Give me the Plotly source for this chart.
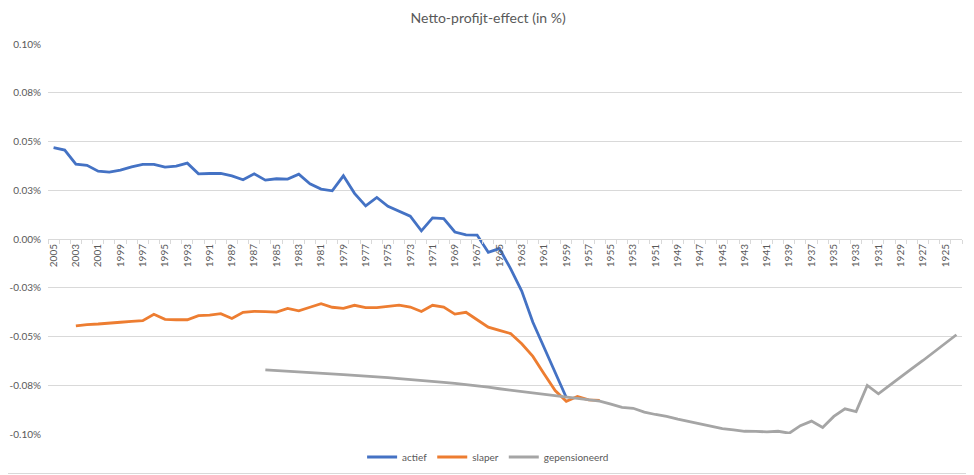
import plotly.graph_objects as go

# Data (in %), years run from 2005 down to 1924
actief_years = list(range(2005, 1958, -1))
actief = [0.0468, 0.0456, 0.0384, 0.0378, 0.0348, 0.0343, 0.0353, 0.0370, 0.0383, 0.0383,
          0.0369, 0.0374, 0.0389, 0.0334, 0.0336, 0.0336, 0.0324, 0.0304, 0.0334, 0.0302,
          0.0309, 0.0307, 0.0332, 0.0283, 0.0256, 0.0247, 0.0324, 0.0234, 0.0170, 0.0213,
          0.0168, 0.0144, 0.0117, 0.0042, 0.0108, 0.0105, 0.0036, 0.0021, 0.0020, -0.0068,
          -0.0049, -0.0152, -0.0267, -0.0427, -0.0556, -0.0684, -0.0813]

slaper_years = list(range(2003, 1955, -1))
slaper = [-0.0446, -0.0439, -0.0436, -0.0433, -0.0427, -0.0422, -0.0419, -0.0386, -0.0412, -0.0414,
          -0.0414, -0.0393, -0.0390, -0.0383, -0.0408, -0.0376, -0.0371, -0.0372, -0.0375, -0.0356,
          -0.0368, -0.0350, -0.0332, -0.0350, -0.0356, -0.0340, -0.0352, -0.0352, -0.0344, -0.0339,
          -0.0349, -0.0372, -0.0340, -0.0349, -0.0385, -0.0376, -0.0414, -0.0452, -0.0469, -0.0485,
          -0.0537, -0.0602, -0.0691, -0.0777, -0.0832, -0.0808, -0.0825, -0.0828]

gepensioneerd_years = list(range(1986, 1923, -1))
gepensioneerd = [-0.0671, -0.0674, -0.0679, -0.0683, -0.0686, -0.0688, -0.0692, -0.0695, -0.0699, -0.0702,
                 -0.0705, -0.0711, -0.0716, -0.0720, -0.0725, -0.0729, -0.0735, -0.0740, -0.0746, -0.0752,
                 -0.0760, -0.0768, -0.0775, -0.0782, -0.0788, -0.0795, -0.0804, -0.0812, -0.0819, -0.0826,
                 -0.0831, -0.0847, -0.0863, -0.0868, -0.0888, -0.0900, -0.0910, -0.0924, -0.0936, -0.0948,
                 -0.0962, -0.0972, -0.0979, -0.0986, -0.0987, -0.0989, -0.0986, -0.0996, -0.0957, -0.0934,
                 -0.0967, -0.0910, -0.0871, -0.0885, -0.0751, -0.0794, -0.0751, -0.0710, -0.0665, -0.0623,
                 -0.0580, -0.0537, -0.0491]

x_ticks = list(range(2005, 1924, -2))
y_ticks = [-0.1, -0.075, -0.05, -0.025, 0.0, 0.025, 0.05, 0.075, 0.1]
y_labels = ['-0.10%', '-0.08%', '-0.05%', '-0.03%', '0.00%', '0.03%', '0.05%', '0.08%', '0.10%']

font = 'Lato, "Open Sans", sans-serif'
grey_txt = '#595959'

fig = go.Figure()
for name, xs, ys, col in [('actief', actief_years, actief, '#4472C4'),
                          ('slaper', slaper_years, slaper, '#ED7D31'),
                          ('gepensioneerd', gepensioneerd_years, gepensioneerd, '#A5A5A5')]:
    fig.add_trace(go.Scatter(x=xs, y=ys, name=name, mode='lines',
                             line=dict(color=col, width=2.8)))

# page body has an 8px margin, so the figure is a bit smaller than the window
fig.update_layout(
    width=966, height=467,
    margin=dict(l=40, r=12, t=36, b=41),
    paper_bgcolor='white', plot_bgcolor='white',
    font=dict(family=font, color=grey_txt, size=10),
    title=dict(text='Netto-profijt-effect (in %)', x=0.497, xanchor='center', y=0.979,
               yanchor='middle', font=dict(size=14, color=grey_txt)),
    showlegend=True,
    legend=dict(orientation='h', xref='container', yref='container',
                x=0.497, xanchor='center', y=0.0385, yanchor='middle',
                font=dict(size=10, color=grey_txt), itemwidth=30, tracegroupgap=0),
    xaxis=dict(range=[2005.5, 1923.5], anchor='free', position=0.5, automargin=False,
               tickvals=x_ticks, ticktext=[str(v) for v in x_ticks], tickangle=-90,
               ticks='', showgrid=False, zeroline=False,
               showline=True, linecolor='#d9d9d9', linewidth=1,
               tickfont=dict(size=10, color=grey_txt),
               minor=dict(tick0=0.5, dtick=1, ticks='outside', ticklen=4,
                          tickcolor='#d9d9d9', showgrid=False)),
    yaxis=dict(range=[-0.1, 0.1], tickvals=y_ticks, ticktext=y_labels, automargin=False,
               showgrid=True, gridcolor='#d9d9d9', gridwidth=1, zeroline=False,
               ticks='', ticklabelstandoff=6, tickfont=dict(size=10, color=grey_txt)),
)

# chart frame (right and bottom edges fall inside the figure)
fig.add_shape(type='rect', xref='paper', yref='paper',
              x0=-0.06, x1=1.0115, y0=-0.1013, y1=1.12,
              line=dict(color='#d9d9d9', width=1), layer='below')

fig.write_html('out.html')
